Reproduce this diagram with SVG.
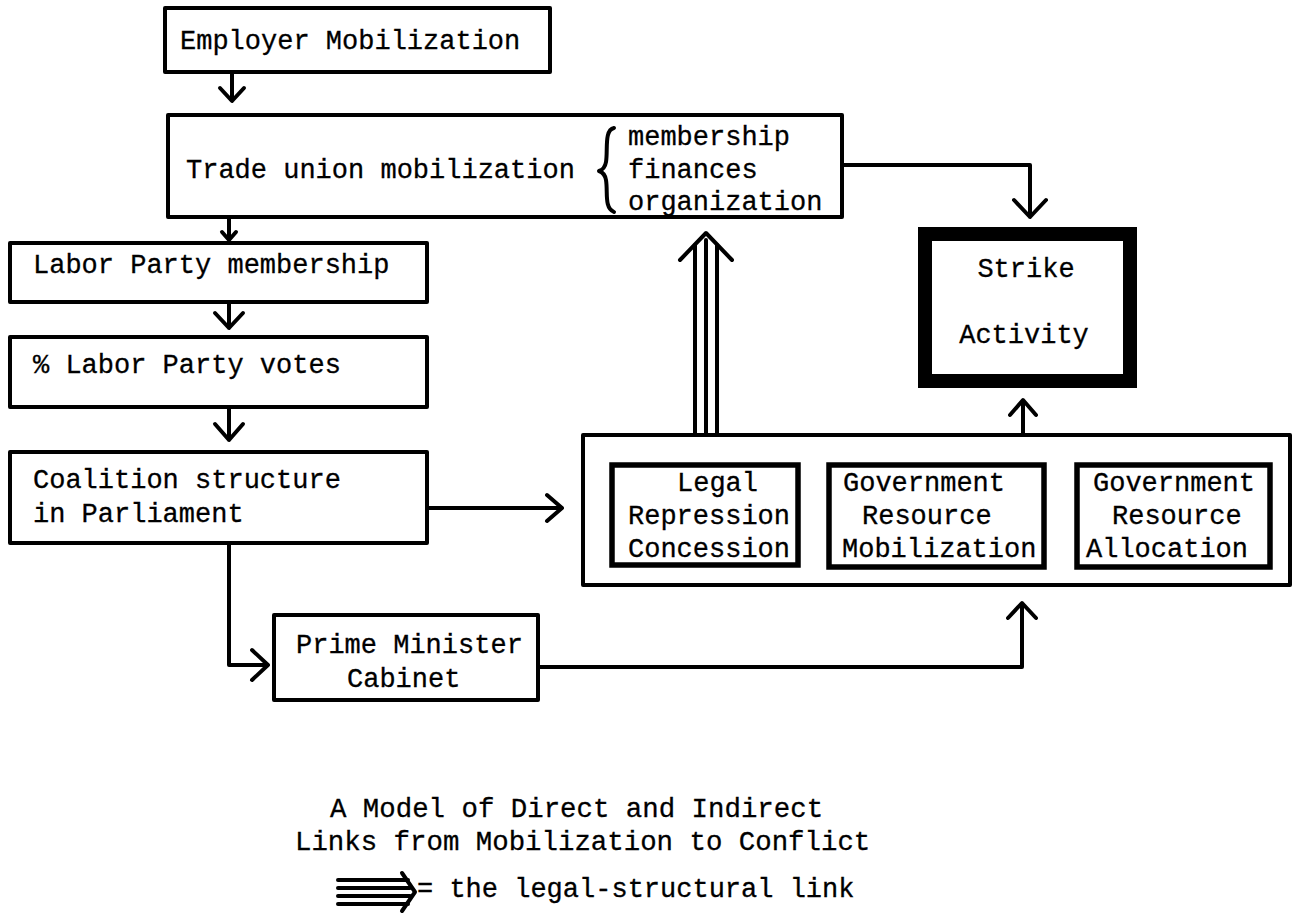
<svg xmlns="http://www.w3.org/2000/svg" width="1299" height="921" viewBox="0 0 1299 921">
<style>
.box{fill:none;stroke:#000;stroke-width:4;stroke-linejoin:round}
.inner{fill:none;stroke:#000;stroke-width:5.5}
.t{font-family:"Liberation Mono","Courier New",monospace;font-size:27px;fill:#000;stroke:#000;stroke-width:0.3}
.cap{font-size:27.4px}
.c{fill:none;stroke:#000;stroke-width:4;stroke-linejoin:round;stroke-linecap:round}
</style>
<rect width="1299" height="921" fill="#fff"/>
<g id="employer">
<rect class="box" x="165" y="8" width="385" height="64"/>
<text class="t" x="180" y="49">Employer Mobilization</text>
</g>
<g id="trade-union">
<rect class="box" x="168" y="115" width="674" height="102"/>
<text class="t" x="186" y="178">Trade union mobilization</text>
<path class="c" stroke-width="2.5" d="M614,128 C604,130 608,150 606,162 C605,168 602,170 599,171 C602,172 605,174 606,180 C608,192 604,208 614,212"/>
<text class="t" x="628" y="145">membership</text>
<text class="t" x="628" y="178">finances</text>
<text class="t" x="628" y="210">organization</text>
</g>
<g id="labor-membership">
<rect class="box" x="10" y="243" width="417" height="59"/>
<text class="t" x="33" y="273">Labor Party membership</text>
</g>
<g id="labor-votes">
<rect class="box" x="10" y="337" width="417" height="70"/>
<text class="t" x="33" y="373">% Labor Party votes</text>
</g>
<g id="coalition">
<rect class="box" x="10" y="452" width="417" height="91"/>
<text class="t" x="33" y="488">Coalition structure</text>
<text class="t" x="33" y="522">in Parliament</text>
</g>
<g id="prime-minister">
<rect class="box" x="274" y="615" width="264" height="85"/>
<text class="t" x="296" y="653">Prime Minister</text>
<text class="t" x="347" y="687">Cabinet</text>
</g>
<g id="government">
<rect class="box" x="583" y="435" width="707" height="150"/>
<g id="legal">
<rect class="inner" x="612" y="465" width="186" height="100"/>
<text class="t" x="677" y="491">Legal</text>
<text class="t" x="628" y="524">Repression</text>
<text class="t" x="628" y="557">Concession</text>
</g>
<g id="gov-mobilization">
<rect class="inner" x="829" y="465" width="215" height="102"/>
<text class="t" x="843" y="491">Government</text>
<text class="t" x="862" y="524">Resource</text>
<text class="t" x="842" y="557">Mobilization</text>
</g>
<g id="gov-allocation">
<rect class="inner" x="1077" y="465" width="193" height="102"/>
<text class="t" x="1093" y="491">Government</text>
<text class="t" x="1112" y="524">Resource</text>
<text class="t" x="1086" y="557">Allocation</text>
</g>
</g>
<g id="strike">
<rect fill="none" stroke="#000" stroke-width="14" x="925" y="234" width="205" height="147"/>
<text class="t" x="1026" y="277" text-anchor="middle">Strike</text>
<text class="t" x="1024" y="343" text-anchor="middle">Activity</text>
</g>
<g id="connectors">
<path class="c" d="M232,72 V100 M220,88 L232,101 L244,88"/>
<path class="c" stroke-width="3" d="M229,217 V240 M222,232 L229,240 L236,232"/>
<path class="c" d="M229,302 V328 M215,313 L229,328 L243,313"/>
<path class="c" d="M229,407 V440 M215,424 L229,440 L243,424"/>
<path class="c" d="M427,508 H562 M547,495 L562,508 L547,521"/>
<path class="c" d="M229,543 V665 H268 M252,650 L268,665 L252,680"/>
<path class="c" d="M538,667 H1022 V604 M1008,618 L1022,603 L1036,618"/>
<path class="c" d="M1023,435 V401 M1010,415 L1023,400 L1036,415"/>
<path class="c" d="M842,165 H1030 V217 M1014,200 L1030,217 L1046,200"/>
<path class="c" d="M695,435 V245 M706,435 V240 M717,435 V245"/>
<path class="c" stroke-width="5" d="M680,260 L706,233 L732,260"/>
</g>
<g id="caption">
<text class="t cap" x="330" y="817">A Model of Direct and Indirect</text>
<text class="t cap" x="295" y="850">Links from Mobilization to Conflict</text>
</g>
<g id="legend">
<path class="c" stroke-width="4" stroke-linecap="butt" d="M338,880 H408 M338,888 H410 M338,896 H410 M338,904 H408"/>
<path class="c" stroke-width="5" d="M402,873 L415,892 L402,911"/>
<text class="t" x="417" y="897">= the legal-structural link</text>
</g>
</svg>
